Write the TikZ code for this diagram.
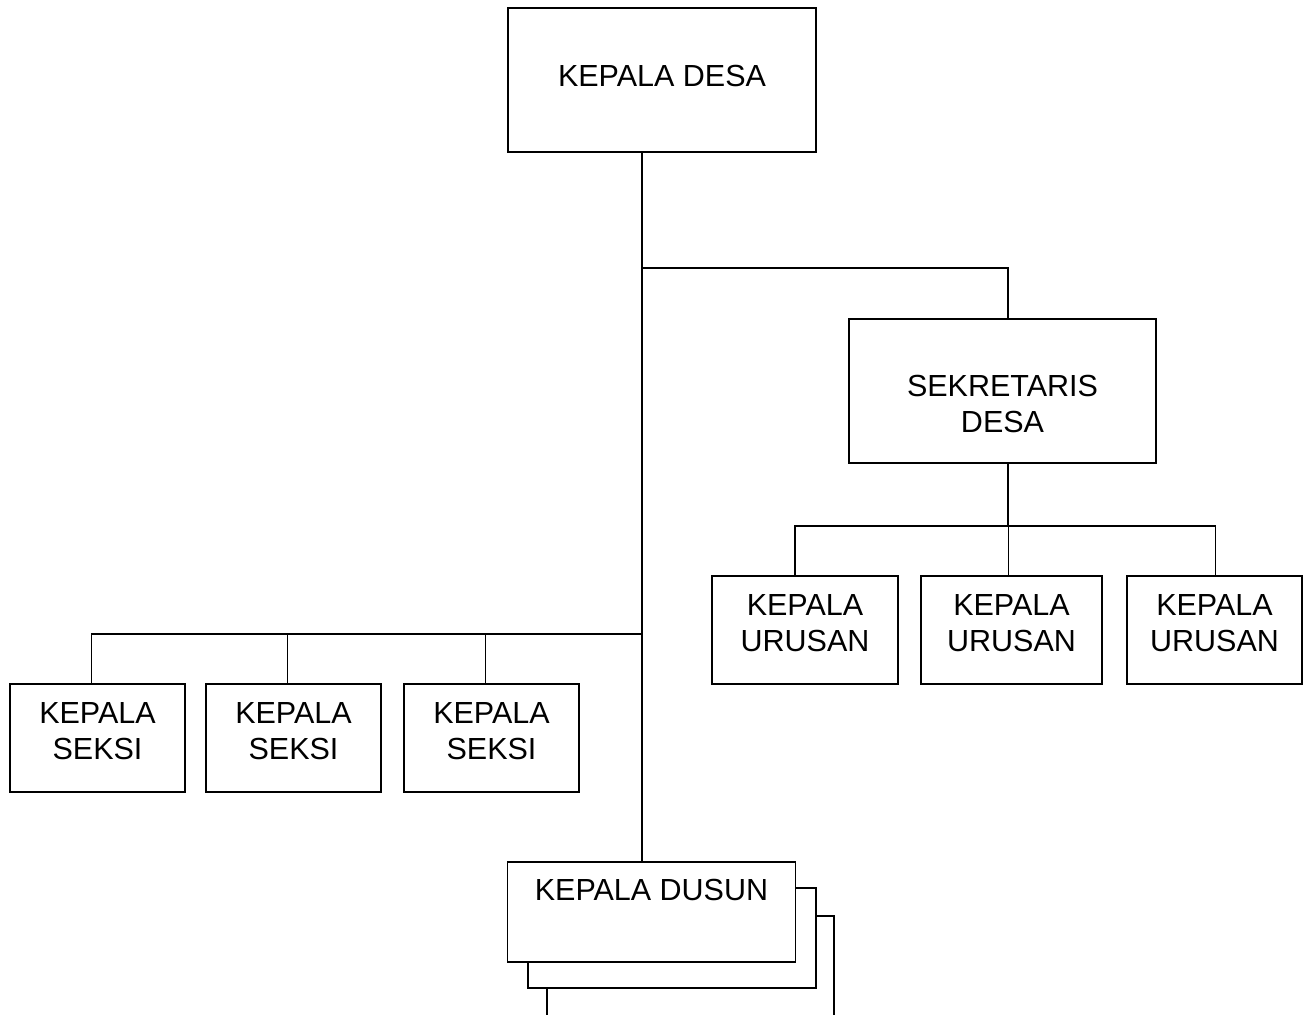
\documentclass[tikz,border=0pt]{standalone}
\usepackage{fontspec}
\setmainfont{Liberation Sans}
\usetikzlibrary{positioning}

\tikzset{
  jabatan/.style={draw, line width=1.6pt, fill=white, align=center, inner sep=0pt,
    font=\fontsize{30.5}{36}\selectfont},
  garis/.style={line width=1.6pt}
}

\begin{document}
\begin{tikzpicture}[x=1pt,y=-1pt]
		\useasboundingbox (0,0) rectangle (1310,1015);
		\clip (0,0) rectangle (1310,1015);
		% kepala desa
		\node[jabatan, minimum width=308, minimum height=144, text depth=9] (kades) at (662,80) {KEPALA DESA};
		% sekretaris dan kepala urusan
		\node[jabatan, minimum width=307, minimum height=144, text height=84] (sekdes) at (1002.5,391) {SEKRETARIS\\DESA};
		\node[jabatan, minimum width=186, minimum height=108, text depth=14] (urusan1) at (805,630) {KEPALA\\URUSAN};
		\node[jabatan, minimum width=181, minimum height=108, text depth=14] (urusan2) at (1011.5,630) {KEPALA\\URUSAN};
		\node[jabatan, minimum width=175, minimum height=108, text depth=14] (urusan3) at (1214.5,630) {KEPALA\\URUSAN};
		% kepala seksi
		\node[jabatan, minimum width=175, minimum height=108, text depth=14] (seksi1) at (97.5,738) {KEPALA\\SEKSI};
		\node[jabatan, minimum width=175, minimum height=108, text depth=14] (seksi2) at (293.5,738) {KEPALA\\SEKSI};
		\node[jabatan, minimum width=175, minimum height=108, text depth=14] (seksi3) at (491.5,738) {KEPALA\\SEKSI};
		% kepala dusun (bertumpuk)
		\draw[garis, fill=white] (547,916) rectangle (834,1100);
		\draw[garis, fill=white] (528,888) rectangle (816,988);
		\node[jabatan, minimum width=288, minimum height=100, text depth=8] (dusun) at (651.5,912) {KEPALA DUSUN\\\mbox{}};
		% titik cabang
		\coordinate (j1) at (642,268);
		\coordinate (j2) at (642,634);
		\coordinate (j3) at (1008,526);
		\draw[garis] (kades.south -| j1) -- (dusun.north -| j1);
		\draw[garis] (j1) -| (sekdes.north -| j3);
		\draw[garis] (sekdes.south -| j3) -- (j3);
		\draw[garis] (j3) -| ([xshift=-10]urusan1.north);
		\draw[garis] (j3) -| ([xshift=-3]urusan2.north);
		\draw[garis] (j3) -| ([xshift=1]urusan3.north);
		\foreach \i in {1,2,3}
			\draw[garis] (j2) -| ([xshift=-6]seksi\i.north);
\end{tikzpicture}
\end{document}
